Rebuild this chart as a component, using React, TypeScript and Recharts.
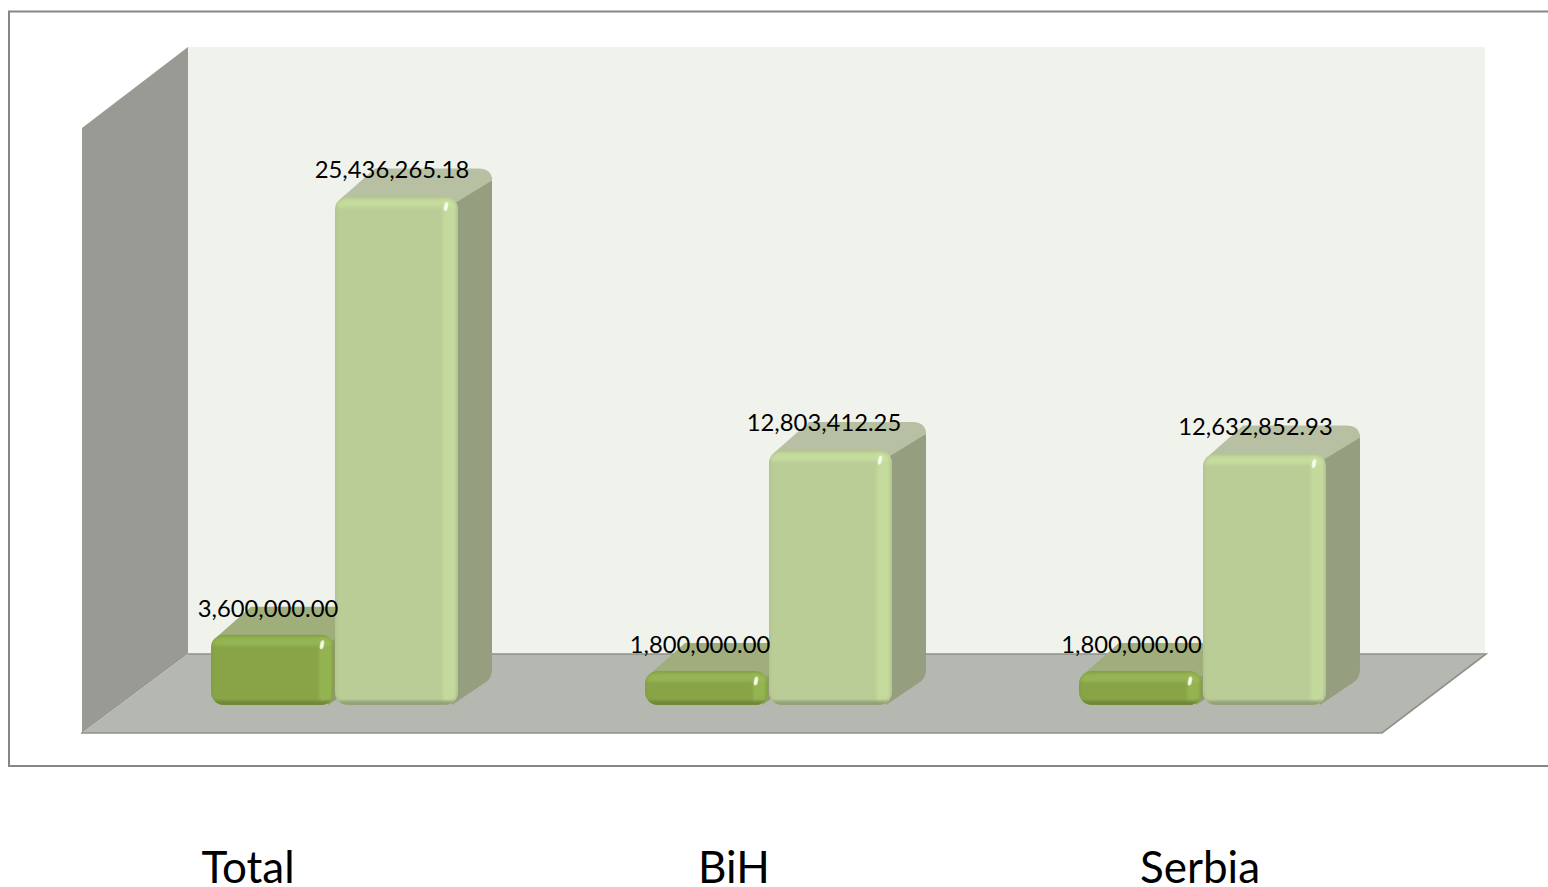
import { BarChart, Bar, XAxis, YAxis, LabelList } from 'recharts';

const CATEGORIES = ['Total', 'BiH', 'Serbia'];
const FIRST_VALUES = [3600000, 1800000, 1800000];
const SECOND_VALUES = [25436265.18, 12803412.25, 12632852.93];

const chartData = CATEGORIES.map((name, i) => ({
  name,
  first: FIRST_VALUES[i],
  second: SECOND_VALUES[i],
}));

const FONT = 'Lato, "Open Sans", sans-serif';
const DEPTH_X = 34;
const DEPTH_Y = 28;
// the axis labels sit left of their category centres in the original slide
const TICK_SHIFT = [-87, -35, -3];
const LABEL_SHIFT = [-5, -7, -9.5];

const DARK = { base: '#88a447', edge: '#7b9640', top: '#a0ae7c', side: '#8f9c6c', glow: '#9abb58', shade: '#667f33' };
const LIGHT = { base: '#bbcd96', edge: '#a3b085', top: '#b8c0a3', side: '#959f80', glow: '#c8e0a0', shade: '#87936f' };

function Box3D({ x, y, width, height, tone, index, id }: any) {
  const left = x - 1;
  const w = width + 1;
  const h = height - 2; // front face stops a little above the axis baseline
  const right = left + w;
  const bottom = y + h;
  const clipId = `front-${id}-${index}`;
  return (
    <g>
      <path
        d={`M${right - 4},${y + 6} L${right + DEPTH_X - 8},${y - DEPTH_Y + 3} Q${right + DEPTH_X},${y - DEPTH_Y + 3} ${right + DEPTH_X},${y - DEPTH_Y + 14}
            V${bottom - DEPTH_Y - 8} Q${right + DEPTH_X},${bottom - DEPTH_Y + 1} ${right + DEPTH_X - 6},${bottom - DEPTH_Y + 5} L${right - 6},${bottom} Z`}
        fill={tone.side}
      />
      <path
        d={`M${left + 6},${y + 2} L${left + 6 + DEPTH_X},${y - DEPTH_Y} H${right + DEPTH_X - 14} Q${right + DEPTH_X},${y - DEPTH_Y} ${right + DEPTH_X},${y - DEPTH_Y + 12} L${right - 2},${y + 6} Z`}
        fill={tone.top}
      />
      <clipPath id={clipId}>
        <rect x={left} y={y} width={w} height={h} rx={13} />
      </clipPath>
      <g clipPath={`url(#${clipId})`}>
        <rect x={left} y={y} width={w} height={h} fill={tone.base} />
        <rect x={left + 1} y={y + 2} width={w - 2} height={9} fill={tone.glow} opacity={0.75} filter="url(#soft)" />
        <rect x={right - 15} y={y + 2} width={13} height={h - 4} fill={tone.glow} opacity={0.7} filter="url(#soft)" />
        <rect x={left} y={bottom - 4} width={w} height={6} fill={tone.shade} opacity={0.85} filter="url(#soft)" />
        <rect x={left} y={y} width={w} height={h} rx={13} fill="none" stroke={tone.edge} strokeWidth={2} opacity={0.6} filter="url(#soft)" />
      </g>
      <ellipse cx={right - 12} cy={y + 10} rx={1.8} ry={4.5} fill="#fbfff0" transform={`rotate(12 ${right - 12} ${y + 10})`} filter="url(#softer)" />
    </g>
  );
}

function ValueLabel({ x, y, width, value, index, lift }: any) {
  return (
    <text
      x={x + width / 2 + LABEL_SHIFT[index]}
      y={y - lift}
      textAnchor="middle"
      dominantBaseline="central"
      fontFamily={FONT}
      fontSize={23.8}
      fill="#000"
    >
      {Number(value).toLocaleString('en-US', { minimumFractionDigits: 2, maximumFractionDigits: 2 })}
    </text>
  );
}

function CategoryTick({ x, index, payload }: any) {
  return (
    <text x={x + TICK_SHIFT[index]} y={865.5} textAnchor="middle" dominantBaseline="central" fontFamily={FONT} fontSize={44} fill="#000">
      {payload.value}
    </text>
  );
}

export default function App() {
  return (
    <div style={{ position: 'absolute', left: 0, top: 0, width: 1548, height: 887, background: '#fff', overflow: 'hidden' }}>
      <BarChart
        width={1548}
        height={887}
        data={chartData}
        margin={{ top: 105, right: 128, bottom: 0, left: 118 }}
        barSize={122}
        barGap={2}
      >
        <defs>
          <filter id="soft" x="-20%" y="-20%" width="140%" height="140%">
            <feGaussianBlur stdDeviation="1.6" />
          </filter>
          <filter id="softer" x="-100%" y="-100%" width="300%" height="300%">
            <feGaussianBlur stdDeviation="0.5" />
          </filter>
        </defs>
        {/* slide frame and the 3D walls behind the bars */}
        <path d="M1548,11.5 H9 V766 H1548" fill="none" stroke="#868686" strokeWidth={2} />
        <polygon points="188,47 1485,47 1485,654 188,654" fill="#f0f3ec" />
        <polygon points="82,128 188,47 188,654 82,733" fill="#989a93" />
        <polygon points="82,733 188,654 1486,654 1382,733" fill="#b5b8b1" />
        <polyline points="81,733 1382,733 1486,654 188,654" fill="none" stroke="#8e908a" strokeWidth={1.6} />
        <XAxis dataKey="name" height={180} axisLine={false} tickLine={false} interval={0} tick={<CategoryTick />} />
        <YAxis hide domain={[0, 30000000]} />
        <Bar dataKey="first" isAnimationActive={false} shape={(p: any) => <Box3D {...p} id="a" tone={DARK} />}>
          <LabelList dataKey="first" content={<ValueLabel lift={27} />} />
        </Bar>
        <Bar dataKey="second" isAnimationActive={false} shape={(p: any) => <Box3D {...p} id="b" tone={LIGHT} />}>
          <LabelList dataKey="second" content={<ValueLabel lift={28} />} />
        </Bar>
      </BarChart>
    </div>
  );
}
